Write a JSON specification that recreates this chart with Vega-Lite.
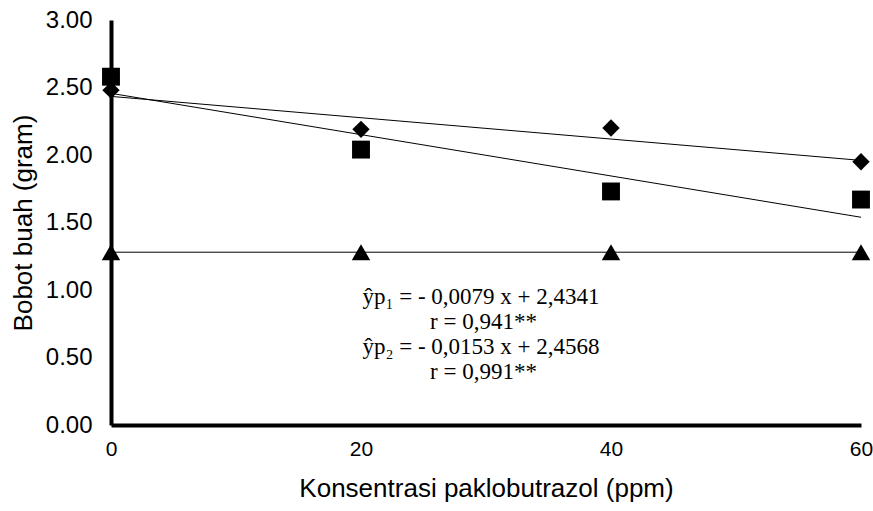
{
  "$schema": "https://vega.github.io/schema/vega-lite/v6.json",
  "width": 750,
  "height": 405,
  "autosize": {"type": "none"},
  "padding": {"left": 111, "top": 20, "right": 12, "bottom": 86},
  "background": "white",
  "config": {
    "view": {"stroke": null},
    "axis": {"grid": false, "ticks": false, "domainColor": "black", "domainWidth": 4, "labelColor": "black", "titleColor": "black", "labelFont": "Liberation Sans", "titleFont": "Liberation Sans", "titleFontWeight": "normal"}
  },
  "datasets": {
    "obs": [
      {"series": "p1", "x": 0, "y": 2.48},
      {"series": "p1", "x": 20, "y": 2.19},
      {"series": "p1", "x": 40, "y": 2.2},
      {"series": "p1", "x": 60, "y": 1.95},
      {"series": "p2", "x": 0, "y": 2.58},
      {"series": "p2", "x": 20, "y": 2.04},
      {"series": "p2", "x": 40, "y": 1.73},
      {"series": "p2", "x": 60, "y": 1.67},
      {"series": "p0", "x": 0, "y": 1.28},
      {"series": "p0", "x": 20, "y": 1.28},
      {"series": "p0", "x": 40, "y": 1.28},
      {"series": "p0", "x": 60, "y": 1.28}
    ],
    "fits": [
      {"series": "p1", "x": 0, "y": 2.4341},
      {"series": "p1", "x": 60, "y": 1.9601},
      {"series": "p2", "x": 0, "y": 2.4568},
      {"series": "p2", "x": 60, "y": 1.5388},
      {"series": "p0", "x": 0, "y": 1.28},
      {"series": "p0", "x": 60, "y": 1.28}
    ],
    "notes": [
      {"x": 29.6, "y": 0.948, "label": "ŷp₁ = - 0,0079 x + 2,4341"},
      {"x": 29.8, "y": 0.763, "label": "r = 0,941**"},
      {"x": 29.6, "y": 0.578, "label": "ŷp₂ = - 0,0153 x + 2,4568"},
      {"x": 29.8, "y": 0.393, "label": "r = 0,991**"}
    ]
  },
  "encoding": {
    "x": {
      "field": "x", "type": "quantitative",
      "scale": {"domain": [0, 60], "nice": false, "zero": false},
      "axis": {"values": [0, 20, 40, 60], "title": "Konsentrasi paklobutrazol (ppm)", "labelFontSize": 21, "titleFontSize": 26, "labelPadding": 13, "titlePadding": 16, "labelFlush": false}
    },
    "y": {
      "field": "y", "type": "quantitative",
      "scale": {"domain": [0, 3], "nice": false},
      "axis": {"values": [0, 0.5, 1, 1.5, 2, 2.5, 3], "format": ".2f", "title": "Bobot buah (gram)", "labelFontSize": 24, "titleFontSize": 26, "labelPadding": 19, "titlePadding": 9, "labelFlush": false}
    }
  },
  "layer": [
    {
      "data": {"name": "fits"},
      "mark": {"type": "line", "color": "black", "strokeWidth": 1},
      "encoding": {"detail": {"field": "series"}}
    },
    {
      "data": {"name": "obs"},
      "mark": {"type": "point", "filled": true, "color": "black", "opacity": 1},
      "encoding": {
        "shape": {"field": "series", "type": "nominal", "scale": {"domain": ["p1", "p2", "p0"], "range": ["diamond", "square", "triangle-up"]}, "legend": null},
        "size": {"field": "series", "type": "nominal", "scale": {"domain": ["p1", "p2", "p0"], "range": [300, 340, 400]}, "legend": null}
      }
    },
    {
      "data": {"name": "notes"},
      "mark": {"type": "text", "font": "Liberation Serif", "fontSize": 23, "color": "black", "align": "center", "baseline": "middle"},
      "encoding": {"text": {"field": "label"}}
    }
  ]
}
